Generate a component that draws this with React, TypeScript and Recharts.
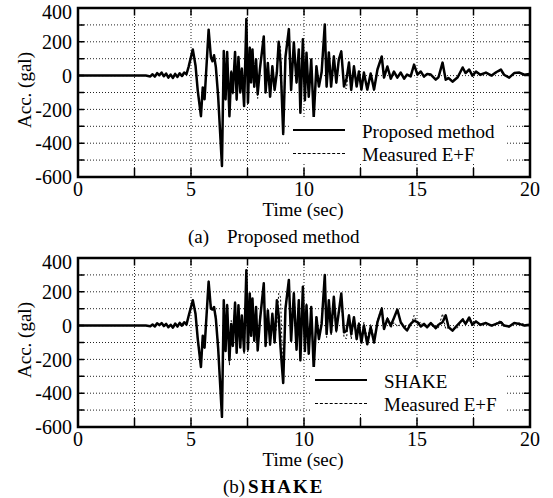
import { LineChart, Line, XAxis, YAxis, CartesianGrid } from "recharts";

const time = [
  0, 3.0, 3.2, 3.3, 3.4, 3.5, 3.6, 3.7, 3.8, 3.9,
  4.0, 4.1, 4.2, 4.3, 4.4, 4.5, 4.6, 4.7, 4.8, 4.9,
  5.08, 5.2, 5.3, 5.44, 5.52, 5.6, 5.78, 5.88, 5.95, 6.02,
  6.1, 6.2, 6.37, 6.45, 6.53, 6.6, 6.7, 6.78, 6.85, 6.95,
  7.02, 7.1, 7.18, 7.25, 7.35, 7.45, 7.52, 7.6, 7.66, 7.72,
  7.8, 7.88, 7.95, 8.05, 8.22, 8.3, 8.4, 8.5, 8.6, 8.7,
  8.8, 8.88, 8.96, 9.08, 9.18, 9.33, 9.43, 9.55, 9.67, 9.77,
  9.84, 9.95, 10.04, 10.11, 10.21, 10.32, 10.43, 10.55, 10.66, 10.78,
  10.92, 11.0, 11.1, 11.2, 11.32, 11.43, 11.54, 11.65, 11.77, 11.88,
  11.99, 12.09, 12.21, 12.33, 12.43, 12.54, 12.65, 12.8, 12.95, 13.1,
  13.25, 13.44, 13.54, 13.69, 13.84, 13.98, 14.13, 14.28, 14.43, 14.56,
  14.72, 14.87, 15.02, 15.17, 15.31, 15.45, 15.61, 15.83, 15.95, 16.13,
  16.27, 16.4, 16.57, 16.8, 17.02, 17.15, 17.31, 17.45, 17.61, 17.8,
  18.05, 18.3, 18.5, 18.71, 18.85, 19.08, 19.3, 19.53, 19.75, 19.97,
  20,
];

// acceleration (gal)
const proposed = [
  0, 0, -5, 8, -6, 15, 2, 18, -4, 12,
  -12, 6, -14, 10, -8, 14, -2, 18, 8, 55,
  155, 60, -90, -240, -70, -140, 272, 110, 85, 120,
  50, -120, -535, 145, -140, 140, -240, 20, -100, 140,
  -140, 110, -100, 40, -180, 335, -160, 165, -40, 155,
  -65, 95, -110, 40, 232, -100, 75, -125, 55, -85,
  20, 200, 80, -345, 110, 275, -85, 196, -40, 155,
  -220, 215, -145, 135, -125, 95, -250, 55, -65, 20,
  303, -65, 137, -65, 113, -42, 95, 143, -65, -20,
  77, -85, 55, -65, 24, -83, 18, -83, 12, -83,
  36, 113, -12, 54, -18, 24, -12, 18, -18, 6,
  -5, 65, 6, 24, -6, 10, 6, -24, -10, 77,
  -24, -15, -36, -10, 48, 15, 36, 0, 24, 5,
  18, 0, 20, 36, 5, -12, 15, 18, 5, 10,
  8,
];

const measured = [
  0, 0, -4, 6, -8, 12, 4, 16, -2, 10,
  -10, 8, -12, 8, -6, 12, 0, 16, 10, 50,
  150, 65, -95, -235, -80, -135, 265, 120, 90, 115,
  55, -110, -530, 140, -150, 130, -235, 30, -110, 145,
  -150, 115, -95, 50, -170, 330, -155, 170, -30, 150,
  -75, 100, -135, 50, 235, -90, 80, -120, 60, -80,
  10, 190, 170, -340, 120, 270, -80, 200, -50, 160,
  -210, 210, -140, 130, -130, 100, -245, 60, -60, 30,
  295, -70, 130, -60, 120, -40, 100, 150, -70, -77,
  70, -80, 50, -70, 20, -85, 20, -80, 10, -85,
  30, 110, -10, 50, -15, 20, -5, 15, -15, 5,
  0, 60, 10, 20, -5, 8, 5, -20, -12, 70,
  -20, -10, -30, -12, 45, 12, 30, 5, 20, 0,
  20, -5, 15, 30, 5, -10, 12, 15, 8, 5,
  5,
];

const shake = [
  0, 0, -4, 6, -5, 14, 3, 15, -3, 10,
  -10, 5, -12, 12, -6, 16, 0, 20, 6, 60,
  150, 70, -80, -245, -60, -130, 260, 100, 95, 110,
  40, -130, -540, 150, -150, 120, -205, 10, -120, 135,
  -160, 120, -130, 60, -150, 328, -140, 190, -60, 160,
  -90, 110, -147, 30, 250, -120, 90, -110, 70, -100,
  150, 60, -128, -340, 100, 270, -90, 190, -143, 150,
  -205, 230, -150, 120, -166, 110, -256, 50, -80, 10,
  299, -50, 150, -40, 170, -30, 80, 190, -40, -30,
  60, -50, 50, -80, 10, -100, 0, -110, -10, -100,
  20, 100, -20, 40, 0, 45, 95, 20, -10, -29,
  10, 30, 21, -5, 10, -10, 15, -15, 5, 20,
  61, -10, -30, 5, 36, 10, 48, 5, 25, 5,
  15, 0, 10, 20, 0, -5, 15, 10, 0, 5,
  3,
];

const xLabels = [0, 5, 10, 15, 20];
const xGrid = [0, 2.5, 5, 7.5, 10, 12.5, 15, 17.5, 20];
const yLabels = [400, 200, 0, -200, -400, -600];
const yGrid = [-600, -500, -400, -300, -200, -100, 0, 100, 200, 300, 400];

const rows = time.map((t, i) => ({
  t,
  proposed: proposed[i],
  measured: measured[i],
  shake: shake[i],
}));

// plot frame and inward tick marks, drawn through the same scales
const frameRows = [
  { t: 0, v: -600 },
  { t: 20, v: -600 },
  { t: 20, v: 400 },
  { t: 0, v: 400 },
  { t: 0, v: -600 },
];
const tickRows = [
  ...yGrid.flatMap((v) => [{ t: 0, v }, { t: 0.27, v }, { t: 0.27, v: null }]),
  ...yGrid.flatMap((v) => [{ t: 19.73, v }, { t: 20, v }, { t: 20, v: null }]),
  ...xGrid.flatMap((t) => [{ t, v: -600 }, { t, v: -547 }, { t, v: null }]),
  ...xGrid.flatMap((t) => [{ t, v: 400 }, { t, v: 355 }, { t, v: null }]),
];

const serif = "'Liberation Serif', 'DejaVu Serif', serif";
const ax = { xAxisId: "b", yAxisId: "l" };

function Panel({
  top,
  seriesKey,
  label,
  tag,
  title,
  legendX,
}: {
  top: number;
  seriesKey: string;
  label: string;
  tag: string;
  title: string;
  legendX: number;
}) {
  const isB = tag === "(b)";
  return (
    <div style={{ position: "absolute", left: 0, top, width: 553, height: 250 }}>
      <LineChart width={553} height={250} data={rows} margin={{ top: 8, right: 23, bottom: 0, left: 0 }}>
        <CartesianGrid {...ax} stroke="#222" strokeDasharray="1 2" strokeWidth={1} />
        <XAxis
          xAxisId="b"
          dataKey="t"
          type="number"
          domain={[0, 20]}
          ticks={xGrid}
          tickFormatter={(v) => (xLabels.includes(v) ? String(v) : "")}
          tickLine={false}
          axisLine={false}
          tickSize={5}
          tickMargin={0}
          height={73}
          tick={{ fontSize: 20, fontFamily: serif, fill: "#000" }}
        />
        <YAxis
          yAxisId="l"
          type="number"
          domain={[-600, 400]}
          ticks={yGrid}
          tickFormatter={(v) => (yLabels.includes(v) ? String(v) : "")}
          tickLine={false}
          axisLine={false}
          tickSize={6}
          tickMargin={0}
          width={78}
          tick={{ fontSize: 20, fontFamily: serif, fill: "#000" }}
        />
        <Line
          {...ax}
          dataKey="measured"
          type="linear"
          stroke="#000"
          strokeWidth={1}
          strokeDasharray="2 2"
          dot={false}
          isAnimationActive={false}
        />
        <Line
          {...ax}
          dataKey={seriesKey}
          type="linear"
          stroke="#000"
          strokeWidth={2.5}
          strokeLinejoin="round"
          dot={false}
          isAnimationActive={false}
        />
        <Line
          {...ax}
          data={tickRows}
          dataKey="v"
          type="linear"
          stroke="#000"
          strokeWidth={1.5}
          dot={false}
          activeDot={false}
          connectNulls={false}
          isAnimationActive={false}
        />
        <Line
          {...ax}
          data={frameRows}
          dataKey="v"
          type="linear"
          stroke="#000"
          strokeWidth={2.5}
          strokeLinecap="square"
          dot={false}
          activeDot={false}
          isAnimationActive={false}
        />
      </LineChart>

      {/* legend */}
      <div
        style={{
          position: "absolute",
          left: legendX,
          top: 117,
          width: 507 - legendX,
          height: 47,
          background: "#fff",
          fontFamily: serif,
          fontSize: 19,
          color: "#000",
        }}
      >
        <div style={{ position: "absolute", left: 3, top: 12, width: 52, borderTop: "2.5px solid #000" }} />
        <div style={{ position: "absolute", left: 72, top: 5, lineHeight: "20px", whiteSpace: "nowrap" }}>{label}</div>
        <div style={{ position: "absolute", left: 3, top: 36, width: 52, borderTop: "1px dashed #000" }} />
        <div style={{ position: "absolute", left: 72, top: 28, lineHeight: "20px", whiteSpace: "nowrap" }}>Measured E+F</div>
      </div>

      {/* axis titles */}
      <div
        style={{
          position: "absolute",
          left: 25,
          top: 90,
          transform: "translate(-50%, -50%) rotate(-90deg)",
          fontFamily: serif,
          fontSize: 19,
          whiteSpace: "nowrap",
          color: "#000",
        }}
      >
        Acc. (gal)
      </div>
      <div
        style={{
          position: "absolute",
          left: 303,
          top: 200,
          transform: "translateX(-50%)",
          fontFamily: serif,
          fontSize: 19,
          lineHeight: "20px",
          whiteSpace: "nowrap",
          color: "#000",
        }}
      >
        Time (sec)
      </div>
      <div
        style={{
          position: "absolute",
          left: 0,
          top: 227,
          fontFamily: serif,
          fontSize: 19,
          lineHeight: "20px",
          whiteSpace: "nowrap",
          color: "#000",
        }}
      >
        <span style={{ position: "absolute", left: isB ? 223 : 188 }}>{tag}</span>
        <span
          style={{
            position: "absolute",
            left: isB ? 248 : 227,
            fontWeight: isB ? "bold" : "normal",
            letterSpacing: isB ? 2 : 0,
          }}
        >
          {title}
        </span>
      </div>
    </div>
  );
}

export default function App() {
  return (
    <div style={{ position: "absolute", left: 0, top: 0, width: 553, height: 498, background: "#fff" }}>
      <Panel top={0} seriesKey="proposed" label="Proposed method" tag="(a)" title="Proposed method" legendX={290} />
      <Panel top={250} seriesKey="shake" label="SHAKE" tag="(b)" title="SHAKE" legendX={312} />
    </div>
  );
}
